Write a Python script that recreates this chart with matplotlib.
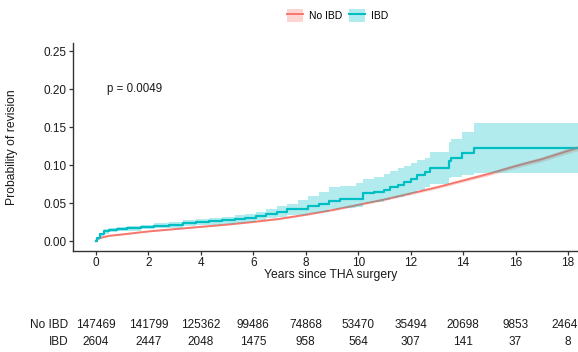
import matplotlib
matplotlib.use("Agg")
import matplotlib.pyplot as plt
import matplotlib.transforms as mtransforms
from matplotlib.patches import Patch
from matplotlib.lines import Line2D

plt.rcParams['font.family'] = ['Liberation Sans', 'DejaVu Sans']

# cumulative incidence of revision, No IBD (many small steps -> smooth)
no_ibd_t = [0, 0.05, 0.1, 0.5, 1, 2, 3, 4, 5, 6, 7, 8, 9, 10, 11, 12, 13, 14, 15, 16, 17, 18, 18.6]
no_ibd_p = [0, 0.003, 0.004, 0.0072, 0.009, 0.013, 0.016, 0.019, 0.022, 0.0255, 0.0295, 0.035,
            0.041, 0.048, 0.055, 0.063, 0.071, 0.080, 0.089, 0.099, 0.108, 0.119, 0.125]
no_ibd_lo = [0, 0.0025, 0.0035, 0.0067, 0.0085, 0.0125, 0.0155, 0.0185, 0.0213, 0.0247, 0.0287, 0.034,
             0.040, 0.0468, 0.0536, 0.0614, 0.0692, 0.078, 0.0866, 0.0962, 0.1048, 0.1155, 0.1212]
no_ibd_hi = [0, 0.0035, 0.0045, 0.0077, 0.0095, 0.0135, 0.0165, 0.0195, 0.0227, 0.0263, 0.0303, 0.036,
             0.042, 0.0492, 0.0564, 0.0646, 0.0728, 0.082, 0.0914, 0.1018, 0.1112, 0.1225, 0.1288]

# IBD step curve with confidence band
ibd_t = [0, 0.05, 0.15, 0.3, 0.5, 0.8, 1.2, 1.7, 2.2, 2.8, 3.3, 3.8, 4.3, 4.8, 5.3, 5.7, 6.1, 6.5,
         6.9, 7.3, 7.7, 8.1, 8.5, 8.9, 9.3, 9.9, 10.2, 10.6, 11.0, 11.2, 11.5, 11.75, 12.0, 12.25,
         12.55, 12.75, 13.45, 13.55, 13.95, 14.4, 18.6]
ibd_p = [0, 0.004, 0.009, 0.013, 0.015, 0.016, 0.017, 0.019, 0.020, 0.022, 0.024, 0.025, 0.027,
         0.028, 0.029, 0.031, 0.033, 0.036, 0.039, 0.042, 0.043, 0.046, 0.049, 0.053, 0.055, 0.056,
         0.063, 0.065, 0.068, 0.072, 0.074, 0.078, 0.082, 0.087, 0.091, 0.097, 0.105, 0.109, 0.116,
         0.123, 0.123]
ibd_lo = [0, 0.002, 0.007, 0.010, 0.012, 0.013, 0.014, 0.016, 0.017, 0.018, 0.020, 0.021, 0.022,
          0.023, 0.024, 0.026, 0.028, 0.030, 0.032, 0.034, 0.035, 0.037, 0.039, 0.042, 0.044, 0.045,
          0.050, 0.052, 0.054, 0.057, 0.058, 0.061, 0.064, 0.068, 0.071, 0.075, 0.083, 0.085, 0.087,
          0.0895, 0.0895]
ibd_hi = [0, 0.006, 0.011, 0.016, 0.018, 0.019, 0.020, 0.022, 0.024, 0.026, 0.028, 0.029, 0.031,
          0.032, 0.034, 0.036, 0.038, 0.042, 0.046, 0.049, 0.054, 0.060, 0.065, 0.071, 0.073, 0.077,
          0.082, 0.085, 0.089, 0.093, 0.096, 0.099, 0.103, 0.107, 0.110, 0.118, 0.130, 0.135, 0.144,
          0.156, 0.156]

# number at risk
risk_years = [0, 2, 4, 6, 8, 10, 12, 14, 16, 18]
risk_no_ibd = [147469, 141799, 125362, 99486, 74868, 53470, 35494, 20698, 9853, 2464]
risk_ibd = [2604, 2447, 2048, 1475, 958, 564, 307, 141, 37, 8]

red = '#F8766D'
cyan = '#00BFC4'
dark = '#1a1a1a'

fig = plt.figure(figsize=(5.78, 3.52), dpi=100)
ax = fig.add_axes([0.1263, 0.2878, 0.8737, 0.5909])

ax.plot(no_ibd_t, no_ibd_p, color=red, lw=1.4, zorder=2)
ax.plot(ibd_t, ibd_p, color=cyan, lw=1.6, drawstyle='steps-post', zorder=2)
ax.fill_between(no_ibd_t, no_ibd_lo, no_ibd_hi, color=red, alpha=0.3, lw=0, zorder=3)
ax.fill_between(ibd_t, ibd_lo, ibd_hi, color=cyan, alpha=0.3, lw=0, step='post', zorder=3)

ax.set_xlim(-0.878, 18.38)
ax.set_ylim(-0.01237, 0.2613)
ax.set_xticks(risk_years)
ax.set_yticks([0, 0.05, 0.10, 0.15, 0.20, 0.25])
ax.set_yticklabels(['0.00', '0.05', '0.10', '0.15', '0.20', '0.25'])
for s in ['top', 'right']:
    ax.spines[s].set_visible(False)
for s in ['left', 'bottom']:
    ax.spines[s].set_color('#333333')
    ax.spines[s].set_linewidth(1.0)
ax.tick_params(axis='both', length=3, width=0.9, color='#333333', labelsize=8.5,
               labelcolor=dark, pad=1.5)

ax.set_xlabel('Years since THA surgery', fontsize=8.7, color=dark)
ax.xaxis.set_label_coords(0.511, -0.117)
ax.xaxis.label.set_va('center')
ax.set_ylabel('Probability of revision', fontsize=8.7, color=dark)
ax.yaxis.set_label_coords(-0.1086, 0.5)

ax.text(0.42, 0.20, 'p = 0.0049', fontsize=8.3, color=dark, ha='left', va='center')

handles = [(Patch(facecolor=red, alpha=0.3, lw=0), Line2D([], [], color=red, lw=1.4)),
           (Patch(facecolor=cyan, alpha=0.3, lw=0), Line2D([], [], color=cyan, lw=1.5))]
fig.legend(handles, ['No IBD', 'IBD'], loc='center', bbox_to_anchor=(0.584, 0.9565), ncol=2,
           frameon=False, fontsize=7.5, handlelength=1.54, handleheight=1.54,
           handletextpad=0.58, columnspacing=0.67, borderpad=0)

# risk table under the plot
trans = mtransforms.blended_transform_factory(ax.transData, fig.transFigure)
row_y = [0.0767, 0.0293]
fig.text(0.118, row_y[0], 'No IBD', fontsize=8.5, color=dark, ha='right', va='center')
fig.text(0.118, row_y[1], 'IBD', fontsize=8.5, color=dark, ha='right', va='center')
for yr, n1, n2 in zip(risk_years, risk_no_ibd, risk_ibd):
    if yr == risk_years[-1]:
        # last column sits at the right edge of the picture
        fig.text(0.999, row_y[0], str(n1), fontsize=8.5, color=dark, ha='right', va='center')
    else:
        ax.text(yr, row_y[0], str(n1), transform=trans, fontsize=8.5, color=dark,
                ha='center', va='center', clip_on=False)
    ax.text(yr, row_y[1], str(n2), transform=trans, fontsize=8.5, color=dark,
            ha='center', va='center', clip_on=False)

fig.savefig('out.png', dpi=100)
